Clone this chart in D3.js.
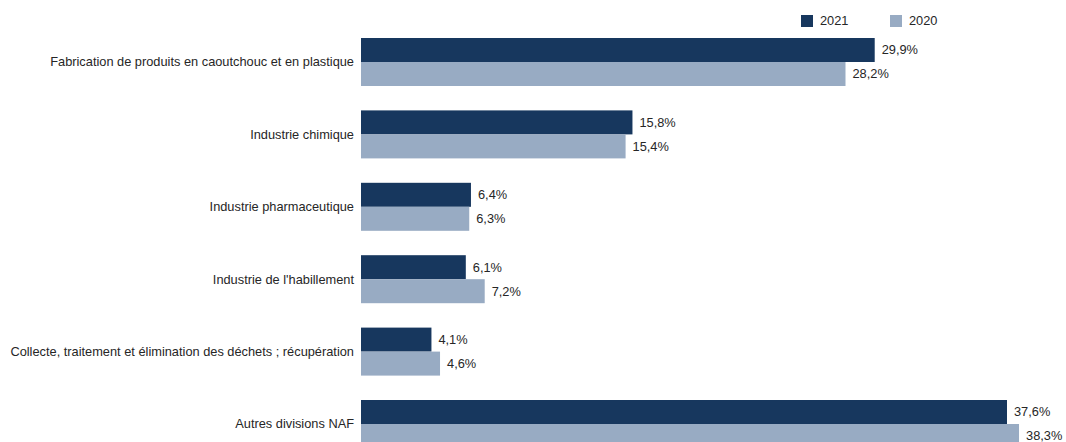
<!DOCTYPE html>
<html><head><meta charset="utf-8">
<script src="https://cdn.jsdelivr.net/npm/d3@7"></script>
<style>body{margin:0;background:#fff}svg{display:block}text{font-family:"Liberation Sans Narrow","Arial Narrow","Liberation Sans",sans-serif;fill:#262626}</style>
</head><body><svg id="c" width="1066" height="442"></svg>
<script>
const categories = ["Fabrication de produits en caoutchouc et en plastique","Industrie chimique","Industrie pharmaceutique","Industrie de l'habillement","Collecte, traitement et élimination des déchets ; récupération","Autres divisions NAF"];
const values2021 = [29.9, 15.8, 6.4, 6.1, 4.1, 37.6];
const values2020 = [28.2, 15.4, 6.3, 7.2, 4.6, 38.3];
const seriesNames = ["2021", "2020"];
const colors = ["#17375e", "#98abc3"];

const svg = d3.select("#c");
const x0 = 361;
const x = d3.scaleLinear().domain([0, 37.6]).range([x0, 1007]);
const yb = d3.scaleBand().domain(categories).range([38 - 12.2, 38 - 12.2 + 72.4*6]).paddingInner(24.4/72.4).paddingOuter(12.2/72.4);
const inner = d3.scaleBand().domain(seriesNames).range([0, yb.bandwidth()]);
const series = [values2021, values2020];
const fs = 12.8;

const g = svg.append("g");
categories.forEach((c, i) => {
  series.forEach((vals, s) => {
    const yy = yb(c) + inner(seriesNames[s]);
    g.append("rect").attr("x", x(0)).attr("y", yy).attr("width", x(vals[i]) - x(0)).attr("height", inner.bandwidth()).attr("fill", colors[s]);
    g.append("text").attr("x", x(vals[i]) + 7).attr("y", yy + inner.bandwidth()/2).attr("dy", "0.35em")
      .attr("font-size", fs).text(vals[i].toFixed(1).replace(".", ",") + "%");
  });
  g.append("text").attr("x", 354).attr("y", yb(c) + yb.bandwidth()/2).attr("dy", "0.35em")
    .attr("text-anchor", "end").attr("font-size", fs).text(c);
});

const lg = svg.append("g");
const lx = [801, 890];
seriesNames.forEach((n, s) => {
  lg.append("rect").attr("x", lx[s]).attr("y", 15).attr("width", 12).attr("height", 12).attr("fill", colors[s]);
  lg.append("text").attr("x", lx[s] + 19).attr("y", 21).attr("dy", "0.35em").attr("font-size", fs).text(n);
});
</script></body></html>
